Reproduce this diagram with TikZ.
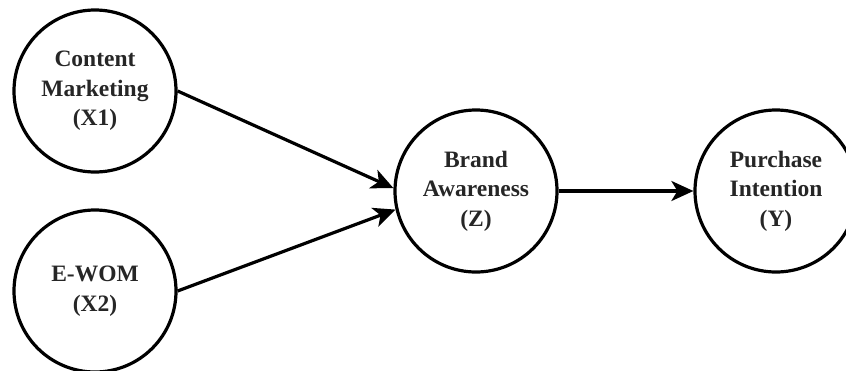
\documentclass[tikz,border=0pt]{standalone}
\usepackage{fontspec}
\setmainfont{Liberation Serif}
\usetikzlibrary{arrows.meta}
\begin{document}
\begin{tikzpicture}[x=1pt,y=-1pt,
  latent/.style={circle,draw=black,line width=3.2pt,minimum size=162pt,inner sep=0pt,
    align=center,text=black!85,font=\fontsize{23.5}{29.5}\selectfont\bfseries},
  conn/.style={line width=3.2pt,-{Stealth[length=22pt,width=20pt,inset=6pt]}}]
\useasboundingbox (0,0) rectangle (846,370);
\node[latent] (cm) at (95,91) {Content\\Marketing\\(X1)};
\node[latent] (ew) at (95,291) {E-WOM\\(X2)};
\node[latent] (ba) at (476,191) {Brand\\Awareness\\(Z)};
\node[latent] (pi) at (776,191) {Purchase\\Intention\\(Y)};
\draw[conn] (cm.east) -- (ba.178);
\draw[conn] (ew.east) -- (ba.193);
\draw[conn] (ba.east) -- (pi.west);
\end{tikzpicture}
\end{document}
